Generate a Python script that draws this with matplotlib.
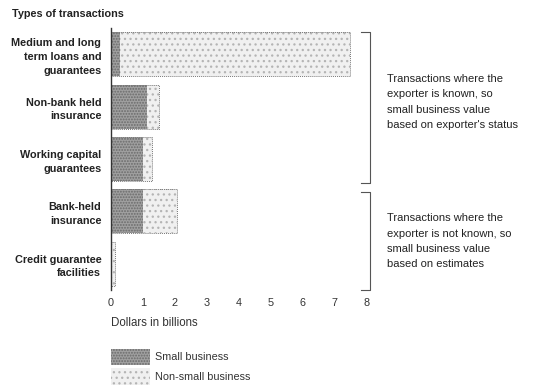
import matplotlib
matplotlib.use("Agg")
import matplotlib.pyplot as plt
from matplotlib.patches import Patch

categories = [
    "Medium and long\nterm loans and\nguarantees",
    "Non-bank held\ninsurance",
    "Working capital\nguarantees",
    "Bank-held\ninsurance",
    "Credit guarantee\nfacilities",
]
small_business = [0.28, 1.11, 1.01, 1.01, 0.04]
non_small_business = [7.19, 0.38, 0.26, 1.06, 0.08]
x_ticks = [0, 1, 2, 3, 4, 5, 6, 7, 8]
note_known = "Transactions where the\nexporter is known, so\nsmall business value\nbased on exporter's status"
note_estimated = "Transactions where the\nexporter is not known, so\nsmall business value\nbased on estimates"

plt.rcParams["font.family"] = ["Liberation Sans", "DejaVu Sans"]
plt.rcParams["hatch.linewidth"] = 0.9

fig = plt.figure(figsize=(5.34, 3.86), dpi=100)
ax = fig.add_axes([111 / 534, (386 - 290) / 386, 256 / 534, 262 / 386])

ypos = list(range(len(categories)))
small_face, small_hatch = "#a0a0a0", "#6a6a6a"
other_face, other_hatch = "#f0f0f0", "#b4b4b4"

ax.barh(ypos, small_business, height=0.84, color=small_face, edgecolor=small_hatch,
        hatch="......", linewidth=0)
ax.barh(ypos, non_small_business, left=small_business, height=0.84, color=other_face,
        edgecolor=other_hatch, hatch="...", linewidth=0)
totals = [s + n for s, n in zip(small_business, non_small_business)]
ax.barh(ypos, totals, height=0.84, fill=False, edgecolor="#777777",
        linewidth=0.7, linestyle=(0, (1, 1)))

ax.set_xlim(0, 8)
ax.set_ylim(4.5, -0.5)
ax.set_yticks(ypos)
ax.set_yticklabels(categories, fontsize=7.8, fontweight="bold", color="#222222",
                   linespacing=1.45)
ax.set_xticks(x_ticks)
ax.set_xticklabels([str(t) for t in x_ticks], fontsize=7.8, color="#333333")
ax.tick_params(axis="both", length=0)
ax.tick_params(axis="x", pad=6)
ax.tick_params(axis="y", pad=7)
for side in ("top", "right", "bottom"):
    ax.spines[side].set_visible(False)
ax.spines["left"].set_color("#333333")
ax.spines["left"].set_linewidth(1.0)

fig.text(12 / 534, 1 - 14 / 386, "Types of transactions", fontsize=7.8,
         fontweight="bold", color="#222222", va="center", ha="left")
fig.text(111 / 534, 1 - 323 / 386, "Dollars in billions", fontsize=8.3,
         color="#333333", va="center", ha="left")

# Brackets grouping the transaction types
bx, tick = 8.1, 0.28
for top, bottom in [(-0.42, 2.46), (2.63, 4.5)]:
    ax.plot([bx - tick, bx, bx, bx - tick], [top, top, bottom, bottom],
            color="#555555", linewidth=0.8, clip_on=False)

ax.text(8.62, 0.91, note_known, fontsize=8, color="#222222", va="center",
        ha="left", linespacing=1.66, clip_on=False)
ax.text(8.62, 3.57, note_estimated, fontsize=8, color="#222222", va="center",
        ha="left", linespacing=1.66, clip_on=False)

handles = [
    Patch(facecolor=small_face, edgecolor=small_hatch, hatch="......", linewidth=0),
    Patch(facecolor=other_face, edgecolor=other_hatch, hatch="...", linewidth=0),
]
fig.legend(handles, ["Small business", "Non-small business"], loc="upper left",
           bbox_to_anchor=(104 / 534, 1 - 342 / 386), frameon=False, fontsize=7.8,
           handlelength=3.6, handleheight=2.0, handletextpad=0.55, labelspacing=0.25,
           borderpad=0.1, labelcolor="#333333")

fig.savefig("out.png", dpi=100)
